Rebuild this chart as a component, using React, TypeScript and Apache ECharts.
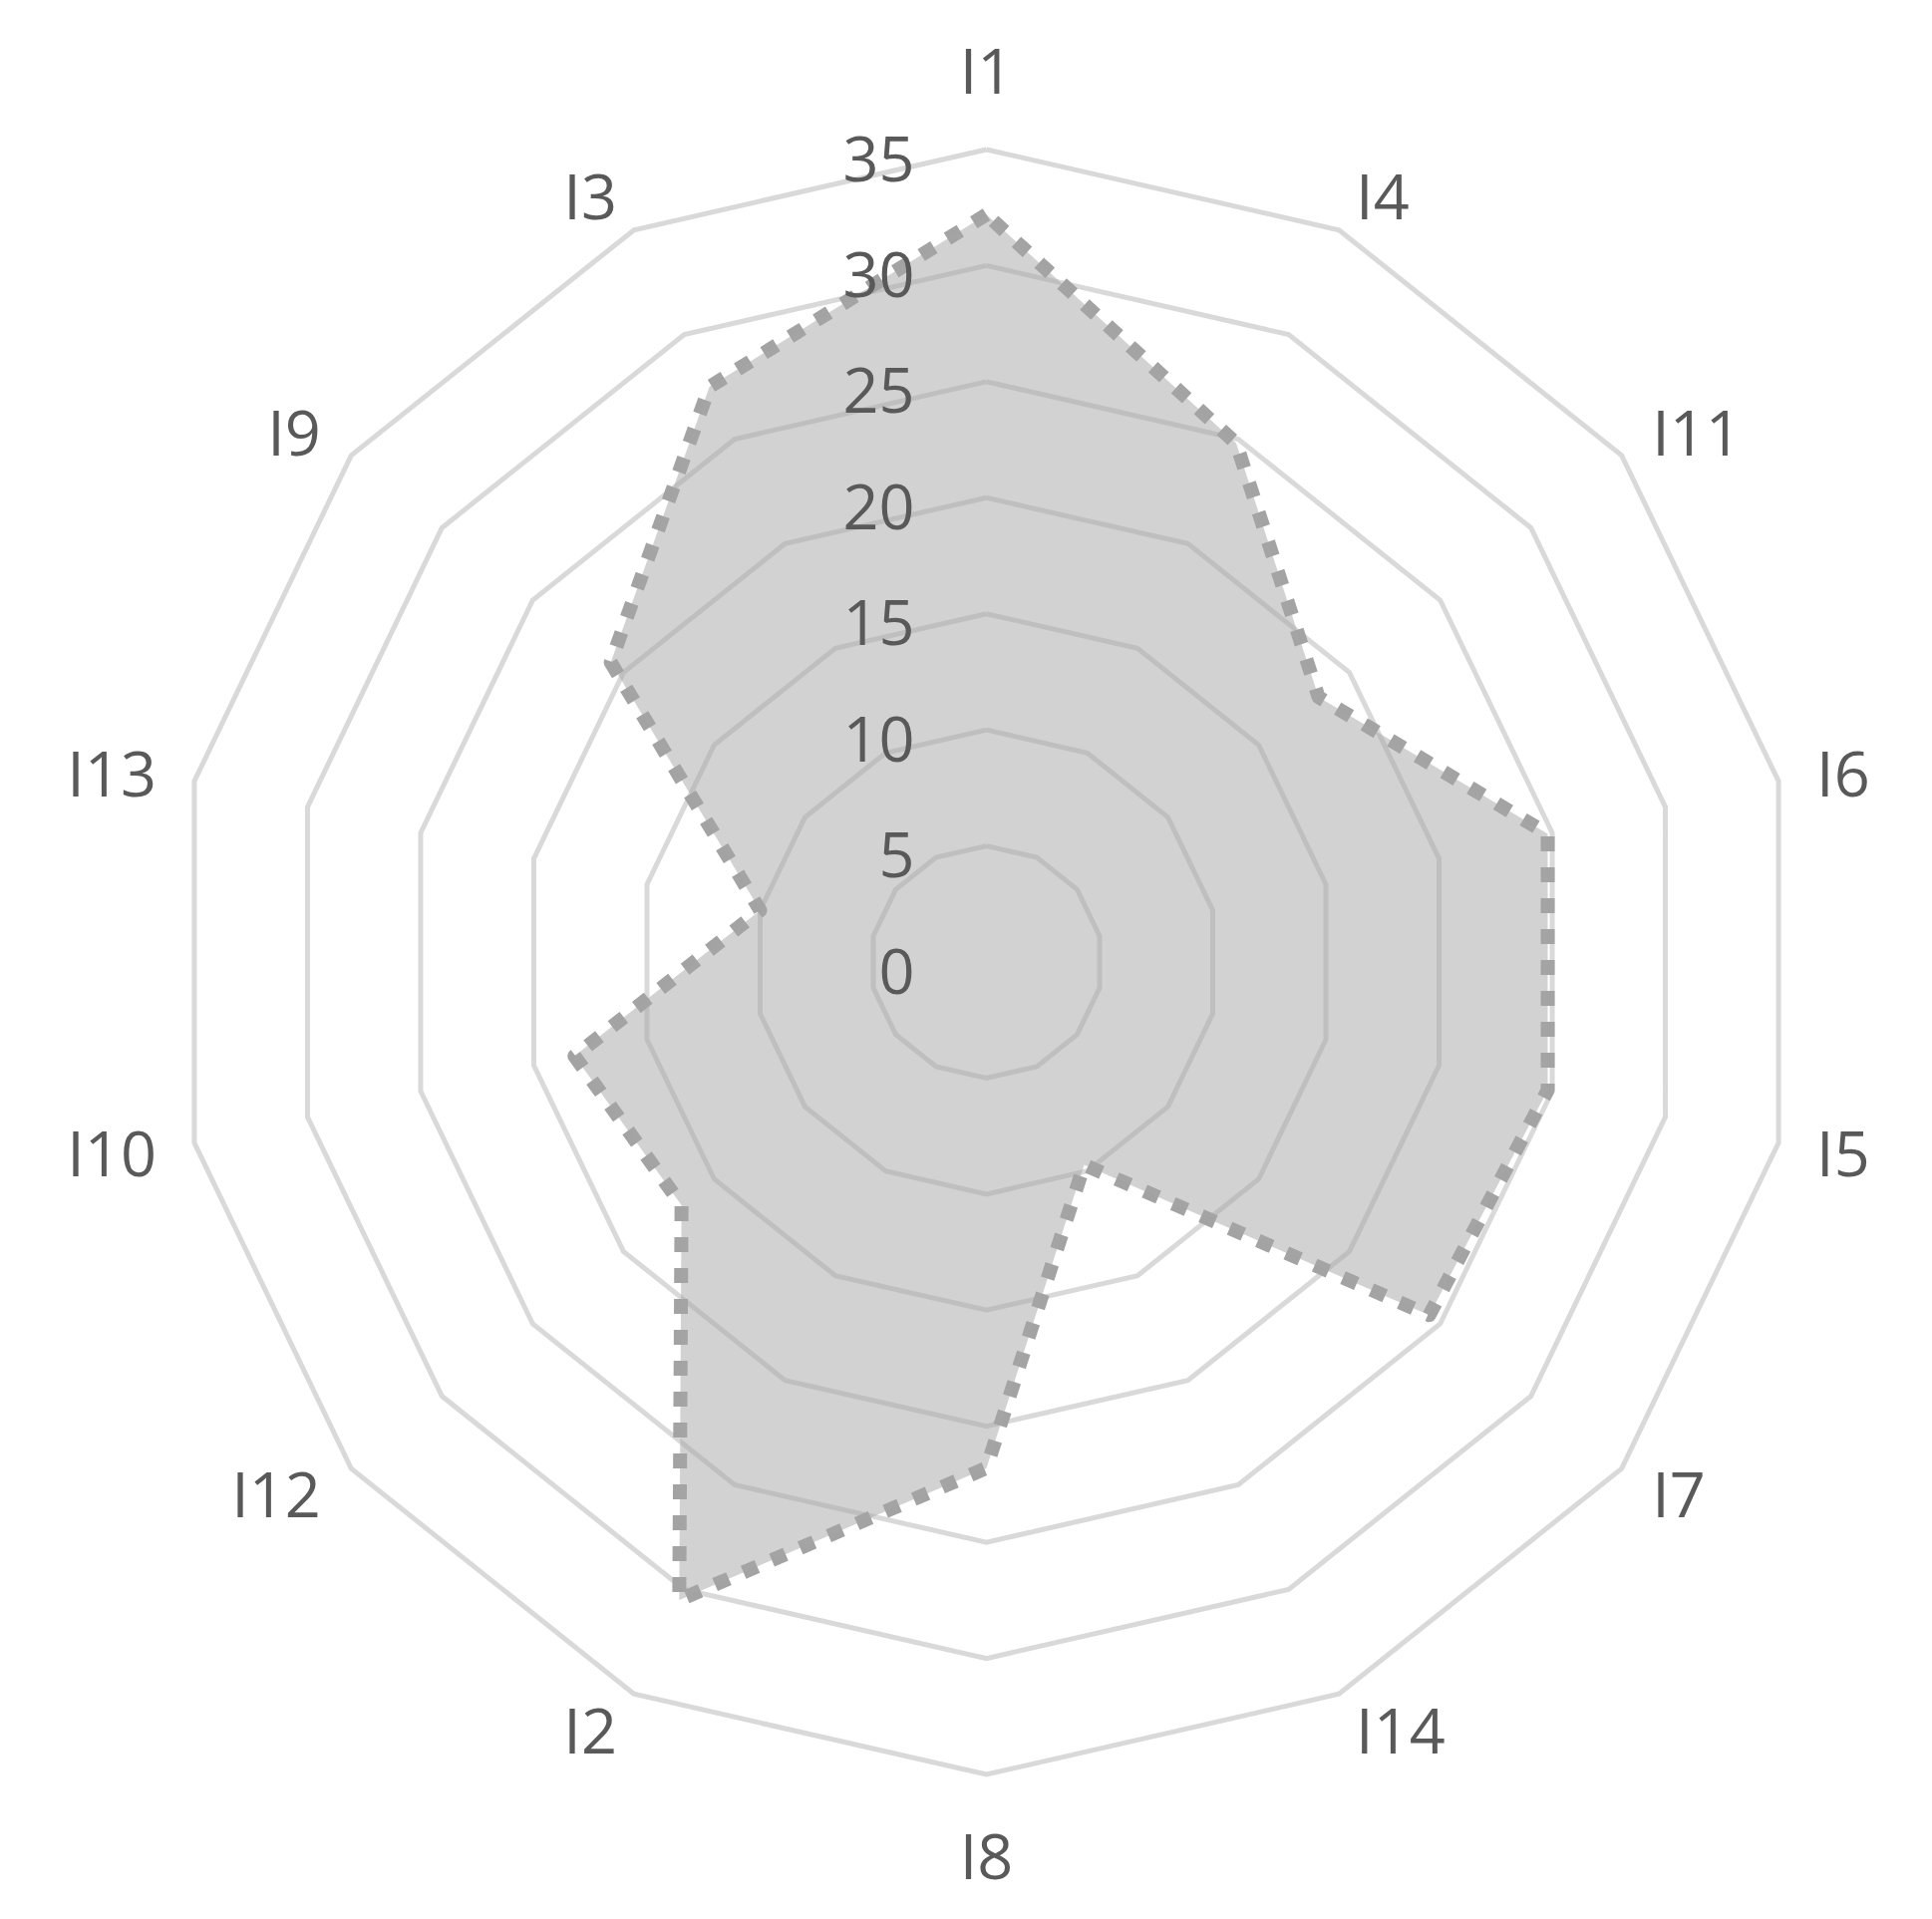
import React, { useEffect, useRef } from "react";
import * as echarts from "echarts";

// Indicators listed counter-clockwise from the top (ECharts radar order)
const indicatorNames = ["I1", "I3", "I9", "I13", "I10", "I12", "I2", "I8", "I14", "I7", "I5", "I6", "I11", "I4"];
const seriesValues = [32.2, 27.5, 20.7, 10, 18.2, 16.8, 30.5, 21.8, 9.7, 24.4, 24.8, 24.8, 18.3, 24.8];
const axisMax = 35;
const splitCount = 7;

const FONT = "'Open Sans', 'Noto Sans', sans-serif";

export default function App() {
  const ref = useRef<HTMLDivElement>(null);
  useEffect(() => {
    if (!ref.current) return;
    const chart = echarts.init(ref.current, null, { renderer: "svg" });
    const baseRadar = {
      center: [981.5, 957],
      radius: 815,
      startAngle: 90,
      shape: "polygon",
      splitNumber: splitCount,
      axisLine: { show: false },
      axisTick: { show: false },
      splitArea: { show: false },
    };
    chart.setOption({
      animation: false,
      backgroundColor: "#ffffff",
      radar: [
        {
          ...baseRadar,
          z: 0,
          indicator: indicatorNames.map((name) => ({ name, min: 0, max: axisMax })),
          axisNameGap: 39,
          axisName: {
            color: "#595959",
            fontSize: 63,
            fontFamily: FONT,
            padding: [10, 0, 10, 0],
          },
          splitLine: { lineStyle: { color: "#d9d9d9", width: 5 } },
          axisLabel: { show: false },
        },
        {
          ...baseRadar,
          z: 10,
          indicator: indicatorNames.map((name, i) => ({
            name,
            min: 0,
            max: axisMax,
            axisLabel: { show: i === 0 },
          })),
          axisName: { show: false },
          splitLine: { show: false },
          axisLabel: {
            show: false,
            color: "#595959",
            fontSize: 63,
            fontFamily: FONT,
            margin: 72,
            verticalAlign: "top",
            lineHeight: 14,
          },
        },
      ],
      series: [
        {
          type: "radar",
          radarIndex: 0,
          z: 2,
          symbol: "none",
          lineStyle: { color: "#a3a3a3", width: 14, type: [15, 16], cap: "butt" },
          areaStyle: { color: "#a6a6a6", opacity: 0.5 },
          data: [{ value: seriesValues, name: "Series" }],
        },
      ],
    });
    return () => chart.dispose();
  }, []);
  return <div ref={ref} style={{ width: 1922, height: 1909 }} />;
}
